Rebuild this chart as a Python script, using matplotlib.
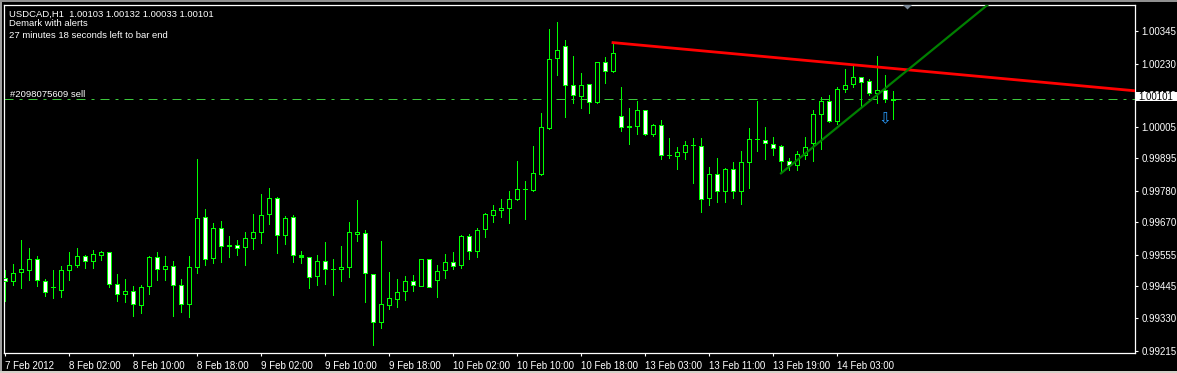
import matplotlib
matplotlib.use("Agg")
import matplotlib.pyplot as plt
from matplotlib.patches import Rectangle, Polygon
import numpy as np

plt.rcParams['font.family'] = ['Liberation Sans', 'DejaVu Sans']

# USDCAD H1 bars (bar 0 = 7 Feb 2012 18:00)
opens = [0.99471, 0.99459, 0.99491, 0.99499, 0.99538, 0.99460, 0.99440, 0.99427, 0.99499, 0.99516,
         0.99549, 0.99530, 0.99551, 0.99563, 0.99449, 0.99414, 0.99425, 0.99375, 0.99443, 0.99545,
         0.99503, 0.99513, 0.99446, 0.99379, 0.99510, 0.99687, 0.99542, 0.99648, 0.99585, 0.99587,
         0.99580, 0.99613, 0.99634, 0.99698, 0.99754, 0.99623, 0.99687, 0.99545, 0.99545, 0.99477,
         0.99531, 0.99503, 0.99503, 0.99510, 0.99627, 0.99630, 0.99486, 0.99315, 0.99375, 0.99396,
         0.99425, 0.99460, 0.99443, 0.99538, 0.99464, 0.99499, 0.99527, 0.99517, 0.99620, 0.99566,
         0.99644, 0.99694, 0.99712, 0.99719, 0.99751, 0.99784, 0.99781, 0.99837, 1.00002, 1.00247,
         1.00290, 1.00153, 1.00113, 1.00156, 1.00093, 1.00234, 1.00201, 1.00044, 1.00004, 1.00007,
         1.00065, 0.99980, 1.00012, 0.99904, 0.99901, 0.99916, 0.99940, 0.99936, 0.99752, 0.99838,
         0.99777, 0.99856, 0.99777, 0.99881, 0.99962, 0.99959, 0.99944, 0.99937, 0.99885, 0.99870,
         0.99906, 0.99947, 1.00049, 1.00097, 1.00026, 1.00139, 1.00155, 1.00181, 1.00165, 1.00124,
         1.00133, 1.00103]
highs = [0.99500, 0.99521, 0.99607, 0.99578, 0.99550, 0.99467, 0.99500, 0.99514, 0.99564, 0.99578,
         0.99552, 0.99571, 0.99569, 0.99565, 0.99486, 0.99467, 0.99444, 0.99447, 0.99550, 0.99564,
         0.99550, 0.99532, 0.99467, 0.99550, 0.99892, 0.99716, 0.99665, 0.99674, 0.99621, 0.99607,
         0.99634, 0.99699, 0.99769, 0.99791, 0.99759, 0.99691, 0.99694, 0.99568, 0.99547, 0.99552,
         0.99600, 0.99539, 0.99585, 0.99670, 0.99748, 0.99642, 0.99487, 0.99603, 0.99493, 0.99468,
         0.99478, 0.99484, 0.99538, 0.99539, 0.99517, 0.99557, 0.99564, 0.99624, 0.99627, 0.99647,
         0.99701, 0.99729, 0.99751, 0.99779, 0.99885, 0.99814, 0.99939, 1.00055, 1.00352, 1.00377,
         1.00313, 1.00256, 1.00197, 1.00158, 1.00236, 1.00253, 1.00301, 1.00147, 1.00073, 1.00098,
         1.00067, 1.00017, 1.00030, 0.99967, 0.99935, 0.99956, 0.99967, 0.99966, 0.99865, 0.99896,
         0.99860, 0.99882, 0.99921, 1.00002, 1.00097, 1.00006, 0.99971, 0.99941, 0.99896, 0.99921,
         0.99971, 1.00066, 1.00113, 1.00119, 1.00148, 1.00211, 1.00221, 1.00183, 1.00175, 1.00257,
         1.00189, 1.00132]
lows = [0.99392, 0.99448, 0.99438, 0.99465, 0.99444, 0.99409, 0.99402, 0.99406, 0.99465, 0.99512,
        0.99508, 0.99508, 0.99536, 0.99441, 0.99392, 0.99388, 0.99339, 0.99349, 0.99416, 0.99466,
        0.99466, 0.99339, 0.99353, 0.99335, 0.99491, 0.99519, 0.99526, 0.99530, 0.99547, 0.99554,
        0.99519, 0.99576, 0.99597, 0.99664, 0.99562, 0.99593, 0.99530, 0.99526, 0.99438, 0.99448,
        0.99452, 0.99413, 0.99463, 0.99477, 0.99604, 0.99388, 0.99236, 0.99297, 0.99363, 0.99370,
        0.99395, 0.99427, 0.99442, 0.99439, 0.99406, 0.99472, 0.99505, 0.99508, 0.99540, 0.99547,
        0.99618, 0.99671, 0.99689, 0.99665, 0.99749, 0.99680, 0.99779, 0.99835, 0.99998, 1.00190,
        1.00042, 1.00092, 1.00074, 1.00056, 1.00090, 1.00163, 1.00200, 0.99993, 0.99947, 0.99982,
        0.99978, 0.99975, 0.99894, 0.99897, 0.99858, 0.99894, 0.99809, 0.99706, 0.99730, 0.99740,
        0.99740, 0.99755, 0.99733, 0.99791, 0.99922, 0.99894, 0.99906, 0.99842, 0.99854, 0.99854,
        0.99892, 0.99887, 0.99929, 1.00024, 1.00016, 1.00131, 1.00148, 1.00078, 1.00119, 1.00090,
        1.00095, 1.00033]
closes = [0.99461, 0.99489, 0.99503, 0.99538, 0.99463, 0.99421, 0.99439, 0.99499, 0.99517, 0.99549,
          0.99531, 0.99556, 0.99563, 0.99449, 0.99414, 0.99425, 0.99379, 0.99439, 0.99545, 0.99503,
          0.99513, 0.99446, 0.99379, 0.99510, 0.99683, 0.99538, 0.99648, 0.99584, 0.99586, 0.99577,
          0.99613, 0.99634, 0.99694, 0.99754, 0.99623, 0.99683, 0.99552, 0.99550, 0.99474, 0.99531,
          0.99503, 0.99503, 0.99510, 0.99634, 0.99634, 0.99489, 0.99315, 0.99379, 0.99400, 0.99421,
          0.99460, 0.99446, 0.99538, 0.99439, 0.99496, 0.99527, 0.99513, 0.99620, 0.99566, 0.99640,
          0.99698, 0.99712, 0.99719, 0.99751, 0.99785, 0.99784, 0.99842, 1.00005, 1.00244, 1.00276,
          1.00152, 1.00118, 1.00153, 1.00093, 1.00234, 1.00202, 1.00266, 1.00004, 1.00006, 1.00065,
          0.99980, 1.00012, 0.99904, 0.99904, 0.99916, 0.99941, 0.99939, 0.99750, 0.99838, 0.99777,
          0.99857, 0.99777, 0.99881, 0.99962, 0.99963, 0.99948, 0.99930, 0.99883, 0.99869, 0.99909,
          0.99934, 1.00050, 1.00097, 1.00024, 1.00139, 1.00153, 1.00182, 1.00163, 1.00125, 1.00133,
          1.00103, 1.00101]

price_ticks = [1.00345, 1.00230, 1.00120, 1.00005, 0.99895, 0.99780, 0.99670,
               0.99555, 0.99445, 0.99330, 0.99215]
time_labels = ['7 Feb 2012', '8 Feb 02:00', '8 Feb 10:00', '8 Feb 18:00', '9 Feb 02:00',
               '9 Feb 10:00', '9 Feb 18:00', '10 Feb 02:00', '10 Feb 10:00', '10 Feb 18:00',
               '13 Feb 03:00', '13 Feb 11:00', '13 Feb 19:00', '14 Feb 03:00']
time_label_bars = [0, 8, 16, 24, 32, 40, 48, 56, 64, 72, 80, 88, 96, 104]

# trendlines: (start bar, start price, price change per bar)
red_line = (76, 1.00304, -0.0000261)
green_line = (97, 0.99842, 0.0002306)
sell_price = 1.00104
sell_arrow = (110, 1.00036)
header = ['USDCAD,H1  1.00103 1.00132 1.00033 1.00101', 'Demark with alerts',
          '27 minutes 18 seconds left to bar end']

W, H = 1177, 373
fig = plt.figure(figsize=(W / 100, H / 100), dpi=100, facecolor='black')


def fx(px):
    return px / W


def fy(py):
    return 1 - py / H


ax = fig.add_axes([fx(4), fy(353), fx(1135) - fx(4), fy(4.5) - fy(353)])
ax.set_facecolor('black')
ax.set_xlim(-0.125, 141.25)
ax.set_ylim(0.992069, 1.004387)
px_price = (1.004387 - 0.992069) / 348.5  # one screen pixel in price units

o = np.array(opens)
h = np.array(highs)
l = np.array(lows)
c = np.array(closes)
x = np.arange(len(o))
up = c >= o
lo = np.minimum(o, c)
hi = np.maximum(o, c)

# order line
ax.axhline(sell_price, color='#3cc83c', lw=0.72, dashes=(9, 6, 3, 6), zorder=1)

# candles: wick, green outer body, then inner fill (black = bull, white = bear)
ax.vlines(x, l, h, color='#00ff00', lw=0.72, zorder=2, antialiased=False)
ax.bar(x, hi - lo + px_price, bottom=lo - px_price / 2, width=0.625, color='#00ff00',
       linewidth=0, zorder=3)
inner = (hi - lo) > px_price * 1.5
ax.bar(x[inner], (hi - lo - px_price)[inner], bottom=(lo + px_price / 2)[inner], width=0.375,
       color=np.where(up, 'black', 'white')[inner], linewidth=0, zorder=4)

# trendlines
xr = np.array([red_line[0], 160])
ax.plot(xr, red_line[1] + red_line[2] * (xr - red_line[0]), color='#ff0000', lw=2.0, zorder=5)
xg = np.array([green_line[0], 160])
ax.plot(xg, green_line[1] + green_line[2] * (xg - green_line[0]), color='#008000', lw=1.6, zorder=5)

ax.text(sell_arrow[0], sell_arrow[1], '\u21e9', color='#2a9dff', ha='center', va='center',
        fontsize=11, family='DejaVu Sans', zorder=6)

for s in ax.spines.values():
    s.set_color('white')
    s.set_linewidth(0.9)

ax.yaxis.tick_right()
ax.set_yticks(price_ticks)
ax.set_yticklabels(['%.5f' % p for p in price_ticks])
ax.set_xticks(time_label_bars)
ax.set_xticklabels(time_labels)
for lbl in ax.get_xticklabels():
    lbl.set_ha('left')
ax.tick_params(colors='white', labelsize=7, length=2.5, width=0.8, pad=2)
ax.tick_params(axis='x', pad=3)

# header texts
fig.text(fx(9), fy(16.7), header[0], color='white', fontsize=6.8, va='baseline')
fig.text(fx(9), fy(26.3), header[1], color='white', fontsize=6.8, va='baseline')
fig.text(fx(9), fy(37.5), header[2], color='white', fontsize=6.8, va='baseline')
fig.text(fx(10), fy(96.7), '#2098075609 sell', color='white', fontsize=6.8, va='baseline')

# current price box (covers the 1.00120 label, as in the terminal)
fig.patches.append(Rectangle((fx(1136), fy(100.7)), fx(41), 8.6 / H, transform=fig.transFigure,
                             facecolor='white', edgecolor='none', zorder=5))
fig.text(fx(1156), fy(96.5), '%.5f' % closes[-1], color='black', fontsize=7,
         ha='center', va='center', zorder=6)

# window frame and chart shift marker
fig.patches.append(Rectangle((0, 0), fx(2), 1, transform=fig.transFigure,
                             facecolor='#a0a0a0', edgecolor='none'))
fig.patches.append(Rectangle((0, fy(1.5)), 1, 1.5 / H, transform=fig.transFigure,
                             facecolor='#909090', edgecolor='none'))
fig.patches.append(Rectangle((0, 0), 1, 2 / H, transform=fig.transFigure,
                             facecolor='#d4d0c8', edgecolor='none'))
fig.patches.append(Polygon([(fx(903), fy(5)), (fx(912), fy(5)), (fx(907.5), fy(9.5))],
                           closed=True, transform=fig.transFigure, facecolor='#7a8898',
                           edgecolor='none'))

fig.savefig('out.png', dpi=100, facecolor='black')
